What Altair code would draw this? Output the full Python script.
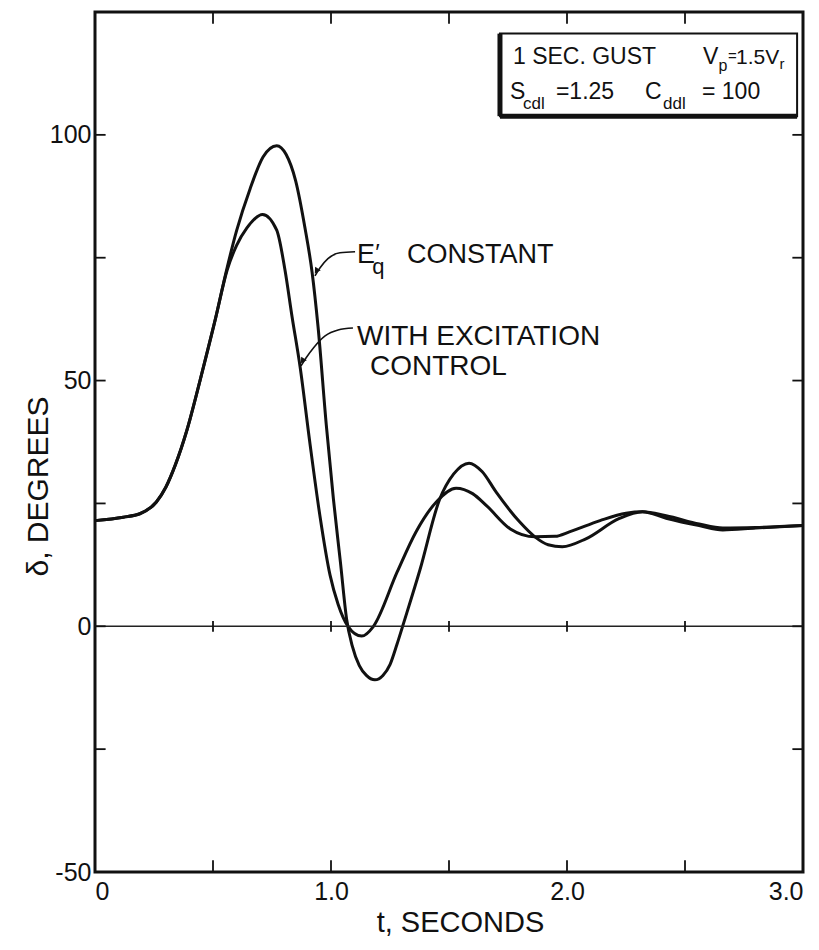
import altair as alt
import pandas as pd

# ---- data ----
t_eq = [0, 0.12, 0.19, 0.26, 0.30, 0.34, 0.39, 0.445, 0.51, 0.56, 0.60, 0.657, 0.712, 0.77, 0.81, 0.85,
        0.89, 0.92, 0.945, 0.98, 1.01, 1.04, 1.066, 1.09, 1.12, 1.15, 1.186, 1.22, 1.25, 1.28, 1.31,
        1.377, 1.46, 1.52, 1.585, 1.64, 1.70, 1.80, 1.864, 1.92, 1.98, 2.08, 2.22, 2.32, 2.42, 2.56,
        2.66, 2.8, 3.0]
v_eq = [21.5, 22.2, 22.9, 25.3, 28.3, 32.8, 40.0, 50.0, 62.5, 73.0, 80.5, 89.0, 95.5, 97.8, 96.0, 90.7,
        81.0, 72.0, 61.0, 41.0, 26.0, 13.0, 1.5, -4.0, -8.0, -10.0, -10.9, -10.0, -7.8, -3.6, 1.0,
        11.5, 25.8, 31.0, 33.2, 31.5, 27.3, 21.2, 18.2, 16.6, 16.2, 17.8, 21.9, 23.3, 22.0, 20.5,
        19.6, 20.0, 20.5]

t_ex = [0, 0.12, 0.19, 0.26, 0.30, 0.34, 0.39, 0.445, 0.51, 0.56, 0.60, 0.643, 0.71, 0.77, 0.805, 0.835,
        0.869, 0.91, 0.953, 0.996, 1.03, 1.072, 1.13, 1.18, 1.28, 1.36, 1.45, 1.53, 1.60, 1.66, 1.76,
        1.864, 1.95, 2.01, 2.14, 2.25, 2.32, 2.42, 2.56, 2.66, 2.8, 3.0]
v_ex = [21.5, 22.2, 22.9, 25.3, 28.3, 32.8, 40.0, 50.0, 62.5, 72.5, 77.5, 81.0, 83.8, 80.6, 72.5, 63.0,
        52.8, 37.5, 22.5, 10.4, 4.5, 0.0, -2.0, 0.0, 11.0, 19.2, 25.5, 28.1, 27.0, 24.5, 19.8,
        18.2, 18.3, 19.2, 21.5, 23.0, 23.3, 22.5, 20.8, 20.0, 20.1, 20.5]

x_ticks = [0, 0.5, 1.0, 1.5, 2.0, 2.5, 3.0]
y_ticks = [-50, -25, 0, 25, 50, 75, 100, 125]
x_labels = [0, 1, 2, 3]
y_labels = [-50, 0, 50, 100]

# annotation leaders (data units)
lead1_t = [1.102, 1.038, 0.987, 0.953, 0.932]
lead1_v = [76.2, 76.0, 74.8, 72.9, 71.3]
lead2_t = [1.093, 1.030, 0.975, 0.928, 0.894, 0.873]
lead2_v = [60.7, 60.3, 59.1, 56.8, 54.6, 53.0]
arrow_t = [0.938, 0.879]
arrow_v = [72.3, 54.0]

# annotation texts: text, t, v, size
labels_main = [
    ("E", 1.110, 73.9, 27), ("\u2032", 1.188, 74.3, 24), ("q", 1.175, 71.6, 22),
    ("CONSTANT", 1.322, 73.9, 27),
    ("WITH EXCITATION", 1.110, 57.2, 28), ("CONTROL", 1.165, 51.1, 28),
    ("1 SEC. GUST", 1.771, 114.4, 23), ("V", 2.576, 114.4, 23), ("p", 2.642, 113.0, 16),
    ("=", 2.682, 115.0, 15), ("1.5V", 2.716, 114.4, 21), ("r", 2.900, 113.4, 15),
    ("S", 1.758, 107.3, 23), ("cdl", 1.814, 105.3, 17), ("=1.25", 1.953, 107.3, 23),
    ("C", 2.331, 107.3, 23), ("ddl", 2.407, 105.3, 17), ("= 100", 2.572, 107.3, 23),
]

box_t = [1.716, 2.975]
box_v = [103.8, 120.6]

FONT = "Liberation Sans"
XD = [0, 3]
YD = [-50, 125]

def X(field="t", axis=None):
    return alt.X(f"{field}:Q", scale=alt.Scale(domain=XD, nice=False, zero=False), axis=axis)

def Y(field="v", axis=None):
    return alt.Y(f"{field}:Q", scale=alt.Scale(domain=YD, nice=False, zero=False), axis=axis)

curves = pd.DataFrame(
    [{"t": a, "v": b, "s": "eq"} for a, b in zip(t_eq, v_eq)]
    + [{"t": a, "v": b, "s": "ex"} for a, b in zip(t_ex, v_ex)]
)

x_axis = alt.Axis(values=x_labels, title="t, SECONDS", grid=False, domain=False, ticks=False,
                  labelExpr="datum.value == 0 ? '0' : format(datum.value, '.1f')",
                  labelFont=FONT, labelFontSize=25, labelColor="#111", labelPadding=7,
                  titleFont=FONT, titleFontSize=29, titleFontWeight="normal", titleColor="#111",
                  titleX=365, titleY=36)
y_axis = alt.Axis(values=y_labels, title="\u03b4, DEGREES", grid=False, domain=False, ticks=False,
                  labelExpr="'' + datum.value",
                  labelFont=FONT, labelFontSize=25, labelColor="#111", labelPadding=4,
                  titleFont=FONT, titleFontSize=30, titleFontWeight="normal", titleColor="#111",
                  titleX=-42, titleY=474)

line_layer = alt.Chart(curves).mark_line(color="#111", strokeWidth=3, interpolate="monotone").encode(
    x=X("t", x_axis), y=Y("v", y_axis), detail="s:N")

zero = alt.Chart(pd.DataFrame({"v": [0]})).mark_rule(color="#222", strokeWidth=1.5).encode(y=Y("v"))

tl = 2.4   # tick length, y units
tx = 0.045  # tick length, x units
tick_rows = []
for xt in x_ticks[1:-1]:
    tick_rows.append({"t": xt, "t2": xt, "v": -50, "v2": -50 + tl})
    tick_rows.append({"t": xt, "t2": xt, "v": 125, "v2": 125 - tl})
    tick_rows.append({"t": xt, "t2": xt, "v": -1.1, "v2": 1.1})
for yt in y_ticks[1:-1]:
    tick_rows.append({"t": 0, "t2": tx, "v": yt, "v2": yt})
    tick_rows.append({"t": 3, "t2": 3 - tx, "v": yt, "v2": yt})
ticks = alt.Chart(pd.DataFrame(tick_rows)).mark_rule(color="#111", strokeWidth=1.8).encode(
    x=X("t"), x2="t2:Q", y=Y("v"), y2="v2:Q")

leads = pd.DataFrame(
    [{"t": a, "v": b, "g": 1, "o": i} for i, (a, b) in enumerate(zip(lead1_t, lead1_v))]
    + [{"t": a, "v": b, "g": 2, "o": i} for i, (a, b) in enumerate(zip(lead2_t, lead2_v))]
)
lead_layer = alt.Chart(leads).mark_line(color="#111", strokeWidth=1.6, interpolate="monotone").encode(
    x=X("t"), y=Y("v"), detail="g:N", order="o:Q")

arrows = alt.Chart(pd.DataFrame({"t": arrow_t, "v": arrow_v})).mark_point(
    shape="triangle-up", filled=True, size=45, angle=213, color="#111", opacity=1).encode(
    x=X("t"), y=Y("v"))

box_df = pd.DataFrame({"t": [box_t[0]], "t2": [box_t[1]], "v": [box_v[0]], "v2": [box_v[1]]})
box = alt.Chart(box_df).mark_rect(fill="white", stroke="#111", strokeWidth=2).encode(
    x=X("t"), x2="t2:Q", y=Y("v"), y2="v2:Q")
box_left = alt.Chart(box_df).mark_rule(color="#111", strokeWidth=5).encode(
    x=X("t"), y=Y("v"), y2="v2:Q")
box_bottom = alt.Chart(box_df).mark_rule(color="#111", strokeWidth=5).encode(
    x=X("t"), x2="t2:Q", y=Y("v"))

txt_df = pd.DataFrame([{"txt": a, "t": b, "v": c, "size": d} for a, b, c, d in labels_main])
texts = alt.Chart(txt_df).mark_text(align="left", baseline="alphabetic", font=FONT, color="#111").encode(
    x=X("t"), y=Y("v"), text="txt:N",
    size=alt.Size("size:Q", scale=None, legend=None))

chart = alt.layer(line_layer, zero, ticks, lead_layer, arrows, box, box_left, box_bottom, texts).resolve_axis(
    x="independent", y="independent"
).properties(
    width=708, height=860,
    autosize=alt.AutoSizeParams(type="none"),
    padding={"left": 95, "top": 12, "right": 16, "bottom": 78},
    background="white",
).configure_view(stroke="#111", strokeWidth=3)

chart.save("out.html", embed_options={"renderer": "svg", "actions": False})
